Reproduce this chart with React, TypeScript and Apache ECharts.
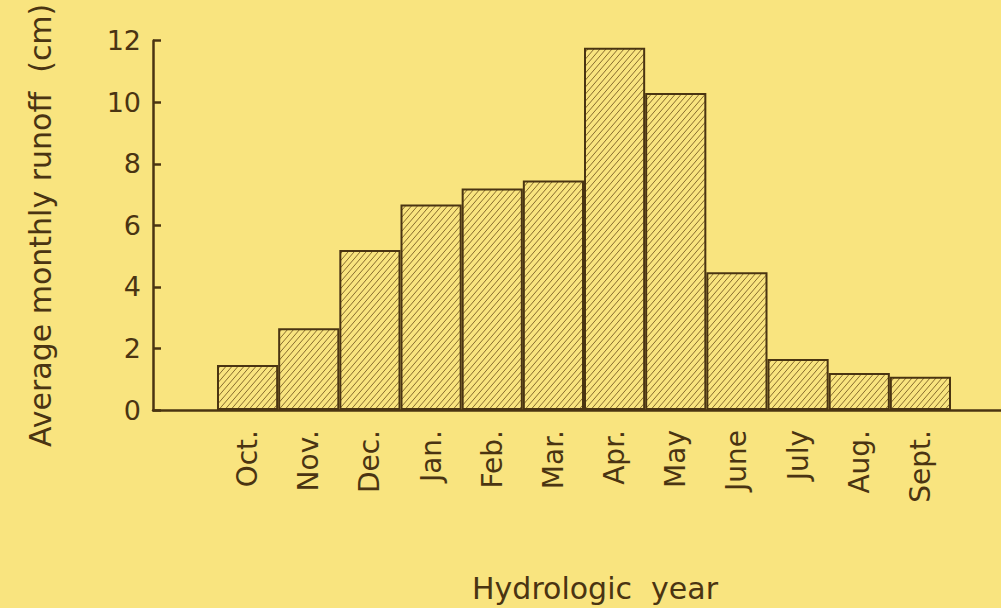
import React, { useEffect, useRef } from "react";
import * as echarts from "echarts";

const months = ["Oct.", "Nov.", "Dec.", "Jan.", "Feb.", "Mar.", "Apr.", "May", "June", "July", "Aug.", "Sept."];
const runoff = [1.46, 2.66, 5.2, 6.68, 7.2, 7.46, 11.77, 10.3, 4.48, 1.66, 1.2, 1.08];
const yMin = 0;
const yMax = 12;
const yInterval = 2;

const BG = "#f9e47f";
const INK = "#4a3412";
const FONT = "DejaVu Sans";

function makeHatch(): HTMLCanvasElement {
  const w = 6;
  const h = 7;
  const c = document.createElement("canvas");
  c.width = w;
  c.height = h;
  const ctx = c.getContext("2d")!;
  ctx.fillStyle = BG;
  ctx.fillRect(0, 0, w, h);
  ctx.strokeStyle = "#7a5f26";
  ctx.lineWidth = 0.9;
  for (let k = -1; k <= 1; k++) {
    ctx.beginPath();
    ctx.moveTo(-w + w * k, 2 * h);
    ctx.lineTo(2 * w + w * k, -h);
    ctx.stroke();
  }
  return c;
}

export default function App() {
  const ref = useRef<HTMLDivElement>(null);
  useEffect(() => {
    if (!ref.current) return;
    const chart = echarts.init(ref.current, undefined, { renderer: "svg" });
    const hatch = makeHatch();
    chart.setOption({
      animation: false,
      backgroundColor: BG,
      grid: [
        { left: 153, right: 0, top: 40.7, bottom: 198 },
        { left: 217, right: 50, top: 40.7, bottom: 198 },
      ],
      xAxis: [
        {
          type: "value",
          gridIndex: 0,
          min: 0,
          max: 1,
          axisLine: { show: true, lineStyle: { color: INK, width: 2.5 } },
          axisTick: { show: false },
          axisLabel: { show: false },
          splitLine: { show: false },
        },
        {
          type: "category",
          gridIndex: 1,
          data: months,
          axisLine: { show: false },
          axisTick: { show: false },
          axisLabel: {
            rotate: 90,
            fontSize: 28,
            fontFamily: FONT,
            color: INK,
            margin: 20,
          },
          name: "Hydrologic  year",
          nameLocation: "middle",
          nameGap: 163,
          nameTextStyle: {
            fontSize: 30,
            fontFamily: FONT,
            color: INK,
            padding: [0, 0, 0, 22],
          },
        },
      ],
      yAxis: [
        {
          type: "value",
          gridIndex: 0,
          min: yMin,
          max: yMax,
          interval: yInterval,
          axisLine: { show: true, lineStyle: { color: INK, width: 2.5 } },
          axisTick: { show: true, inside: true, length: 8, lineStyle: { color: INK, width: 2.5 } },
          axisLabel: { fontSize: 27, fontFamily: FONT, color: INK, margin: 12 },
          splitLine: { show: false },
          name: "Average monthly runoff  (cm)",
          nameLocation: "middle",
          nameGap: 98,
          nameTextStyle: { fontSize: 30, fontFamily: FONT, color: INK },
        },
        {
          type: "value",
          gridIndex: 1,
          min: yMin,
          max: yMax,
          interval: yInterval,
          show: false,
        },
      ],
      series: [
        {
          type: "bar",
          xAxisIndex: 1,
          yAxisIndex: 1,
          data: runoff,
          barWidth: "100%",
          barCategoryGap: "0%",
          itemStyle: {
            color: { image: hatch, repeat: "repeat" },
            borderColor: INK,
            borderWidth: 2,
          },
        },
      ],
    });
    return () => chart.dispose();
  }, []);
  return (
    <div
      ref={ref}
      style={{ position: "absolute", left: 0, top: 0, width: 1001, height: 608 }}
    />
  );
}
